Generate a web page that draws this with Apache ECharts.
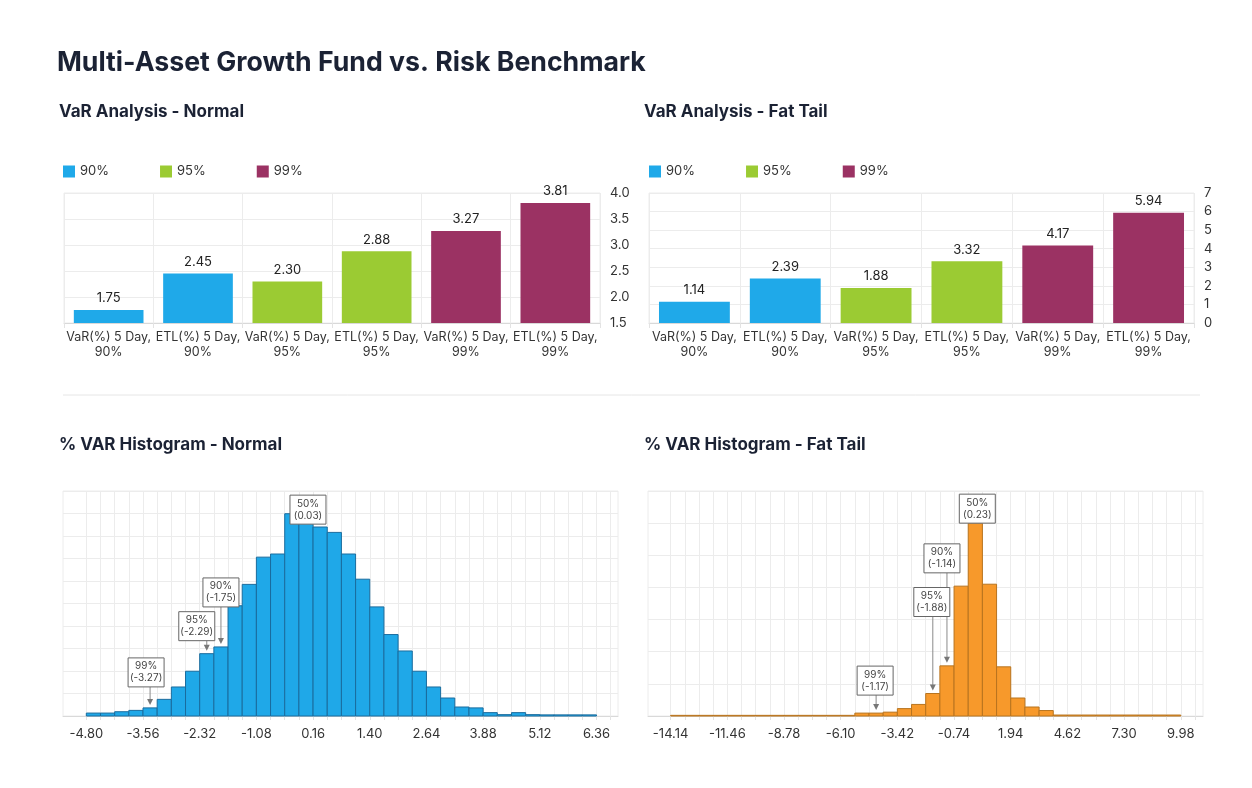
<!DOCTYPE html>
<html>
<head>
<meta charset="utf-8">
<title>Multi-Asset Growth Fund vs. Risk Benchmark</title>
<script src="https://cdn.jsdelivr.net/npm/echarts@6/dist/echarts.min.js"></script>
<style>
  html, body { margin: 0; padding: 0; background: #fff; }
  #main { width: 1252px; height: 788px; }
</style>
</head>
<body>
<div id="main"></div>
<script>
// ---- VaR / ETL bars ----
const varCategories = [
  'VaR(%) 5 Day, 90%', 'ETL(%) 5 Day, 90%',
  'VaR(%) 5 Day, 95%', 'ETL(%) 5 Day, 95%',
  'VaR(%) 5 Day, 99%', 'ETL(%) 5 Day, 99%'
];
const confLevels = ['90%', '95%', '99%'];
const normalVar = [1.75, 2.45, 2.30, 2.88, 3.27, 3.81];
const fatVar = [1.14, 2.39, 1.88, 3.32, 4.17, 5.94];
const normalVarTicks = [1.5, 2.0, 2.5, 3.0, 3.5, 4.0];
const fatVarTicks = [0, 1, 2, 3, 4, 5, 6, 7];

// ---- histograms (% of scenarios per bin, 4 bins between labels) ----
const normalHistTicks = [-4.80, -3.56, -2.32, -1.08, 0.16, 1.40, 2.64, 3.88, 5.12, 6.36];
const normalHist = [
  0.13, 0.13, 0.19, 0.25, 0.36, 0.74, 1.29, 1.99, 2.77, 3.07,
  4.90, 5.85, 7.06, 7.20, 8.99, 8.75, 8.40, 8.16, 7.20, 6.08,
  4.85, 3.62, 2.89, 1.99, 1.29, 0.80, 0.40, 0.36, 0.15, 0.06,
  0.15, 0.06, 0.05, 0.05, 0.05, 0.05
];
const normalQuantNames = ['50%', '90%', '95%', '99%'];
const normalQuantValues = [0.03, -1.75, -2.29, -3.27];
const normalQuantAt = [0.03, -1.75, -2.29, -3.27];

const fatHistTicks = [-14.14, -11.46, -8.78, -6.10, -3.42, -0.74, 1.94, 4.62, 7.30, 9.98];
const fatHist = [
  0.10, 0.10, 0.10, 0.10, 0.10, 0.10, 0.10, 0.10, 0.10, 0.10,
  0.10, 0.10, 0.10, 0.45, 0.45, 0.60, 1.15, 1.80, 3.50, 7.80,
  20.2, 30.0, 20.5, 7.65, 2.80, 1.40, 0.85, 0.15, 0.15, 0.15,
  0.15, 0.15, 0.15, 0.15, 0.15, 0.15
];
const fatQuantNames = ['50%', '90%', '95%', '99%'];
const fatQuantValues = [0.23, -1.14, -1.88, -1.17];
const fatQuantAt = [0.23, -1.14, -1.88, -4.40];

// ---- styles ----
const FONT = 'Inter, "Noto Sans", sans-serif';
const levelColors = ['#1fa9e9', '#9bcb33', '#9b3263'];
const gridColor = '#ececec';
const normalBoxDx = [2, 0, -10, -4];
const normalBoxLift = [-8, 37, 10, 18];
const fatBoxDx = [2, -5, -1, -1];
const fatBoxLift = [-3, 90, 74, 15];

function binWidth(ticks) { return (ticks[1] - ticks[0]) / 4; }

function histData(ticks, hist) {
  const w = binWidth(ticks);
  return hist.map((h, i) => [ticks[0] + i * w, ticks[0] + (i + 1) * w, h]);
}

function binEdges(ticks, count) {
  const w = binWidth(ticks);
  const out = [];
  for (let i = 0; i <= count; i++) out.push(ticks[0] + i * w);
  return out;
}

function markData(ticks, hist, at) {
  const w = binWidth(ticks);
  return at.map(v => {
    const idx = Math.floor((v - ticks[0]) / w + 1e-9);
    return [ticks[0] + (idx + 0.5) * w, hist[idx]];
  });
}

function renderBin(fill, stroke) {
  return function (params, api) {
    const a = api.coord([api.value(0), api.value(2)]);
    const b = api.coord([api.value(1), 0]);
    return {
      type: 'rect',
      shape: { x: a[0], y: a[1], width: b[0] - a[0], height: b[1] - a[1] },
      style: { fill: fill, stroke: stroke, lineWidth: 1 }
    };
  };
}

function renderMark(names, values, dx, lift) {
  return function (params, api) {
    const i = params.dataIndex;
    const p = api.coord([api.value(0), api.value(1)]);
    const tipY = p[1] - 3;
    const cx = p[0] + dx[i];
    const bottom = tipY - lift[i];
    const bw = 36, bh = 29;
    const children = [];
    if (lift[i] > 6) {
      children.push({ type: 'line', shape: { x1: p[0], y1: bottom, x2: p[0], y2: tipY - 5 },
        style: { stroke: '#8a8a8a', lineWidth: 1 } });
      children.push({ type: 'polygon', shape: { points: [[p[0] - 3, tipY - 6], [p[0] + 3, tipY - 6], [p[0], tipY]] },
        style: { fill: '#777' } });
    }
    children.push({ type: 'rect', shape: { x: cx - bw / 2, y: bottom - bh, width: bw, height: bh },
      style: { fill: '#fff', stroke: '#666', lineWidth: 1 } });
    children.push({ type: 'text', style: {
      text: names[i] + '\n(' + values[i].toFixed(2) + ')',
      x: cx, y: bottom - bh / 2, align: 'center', verticalAlign: 'middle',
      fontSize: 10, fontFamily: FONT, fill: '#444', lineHeight: 12 } });
    return { type: 'group', children: children };
  };
}

function varSeries(values, gridNo) {
  return confLevels.map((name, j) => ({
    name: name,
    type: 'bar',
    xAxisIndex: gridNo,
    yAxisIndex: gridNo,
    barGap: '-100%',
    barCategoryGap: '22%',
    itemStyle: { color: levelColors[j] },
    label: {
      show: true, position: 'top', distance: 5,
      fontSize: 13, color: '#222', fontFamily: FONT,
      formatter: p => Number(p.value).toFixed(2)
    },
    data: values.map((v, i) => (Math.floor(i / 2) === j ? v : '-'))
  }));
}

function catAxis(gridNo) {
  return {
    type: 'category', gridIndex: gridNo, data: varCategories,
    axisLine: { lineStyle: { color: '#d9d9d9' } },
    axisTick: { show: true, length: 5, lineStyle: { color: '#e3e3e3' } },
    splitLine: { show: true, lineStyle: { color: gridColor } },
    axisLabel: {
      interval: 0, margin: 7, fontSize: 12.5, lineHeight: 15, color: '#333', fontFamily: FONT,
      formatter: s => s.replace(', ', ',\n')
    }
  };
}

function varAxis(gridNo, ticks, digits) {
  return {
    type: 'value', gridIndex: gridNo, position: 'right',
    min: ticks[0], max: ticks[ticks.length - 1], interval: ticks[1] - ticks[0],
    axisLine: { show: false }, axisTick: { show: false },
    splitLine: { lineStyle: { color: gridColor } },
    axisLabel: { margin: 10, fontSize: 13, color: '#333', fontFamily: FONT,
      formatter: v => v.toFixed(digits) }
  };
}

function histXAxis(gridNo, ticks, min, max) {
  return {
    type: 'value', gridIndex: gridNo, min: min, max: max,
    axisLine: { show: true, lineStyle: { color: '#d9d9d9' } },
    axisTick: { show: true, length: 4, customValues: binEdges(ticks, 37), lineStyle: { color: '#e3e3e3' } },
    splitLine: { show: true, lineStyle: { color: gridColor } },
    axisLabel: { customValues: ticks, margin: 12, fontSize: 13, color: '#333', fontFamily: FONT,
      formatter: v => v.toFixed(2) }
  };
}

function histYAxis(gridNo, max, step) {
  return {
    type: 'value', gridIndex: gridNo, min: 0, max: max, interval: step,
    axisLine: { show: false }, axisTick: { show: false }, axisLabel: { show: false },
    splitLine: { lineStyle: { color: gridColor } }
  };
}

const chart = echarts.init(document.getElementById('main'));

const titleStyle = { fontSize: 17, fontWeight: 700, color: '#1b2234', fontFamily: FONT };
const legendStyle = { fontSize: 13, color: '#333', fontFamily: FONT };
const gridBox = { show: true, borderColor: gridColor, borderWidth: 1 };

chart.setOption({
  animation: false,
  backgroundColor: '#fff',
  textStyle: { fontFamily: FONT },
  title: [
    { text: 'Multi-Asset Growth Fund vs. Risk Benchmark', left: 52, top: 44,
      textStyle: { fontSize: 26.7, fontWeight: 700, color: '#1b2234', fontFamily: FONT } },
    { text: 'VaR Analysis - Normal', left: 54, top: 98, textStyle: titleStyle },
    { text: 'VaR Analysis - Fat Tail', left: 639, top: 98, textStyle: titleStyle },
    { text: '% VAR Histogram - Normal', left: 54, top: 431, textStyle: titleStyle },
    { text: '% VAR Histogram - Fat Tail', left: 639, top: 431, textStyle: titleStyle }
  ],
  legend: [
    { left: 58, top: 160, itemWidth: 12, itemHeight: 12, itemGap: 51, icon: 'rect',
      data: confLevels, textStyle: legendStyle },
    { left: 644, top: 160, itemWidth: 12, itemHeight: 12, itemGap: 51, icon: 'rect',
      data: confLevels, textStyle: legendStyle }
  ],
  graphic: [
    { type: 'line', shape: { x1: 63, y1: 395, x2: 1200, y2: 395 }, style: { stroke: '#e6e6e6', lineWidth: 1 } }
  ],
  grid: [
    Object.assign({ left: 64, top: 193, width: 536, height: 130 }, gridBox),
    Object.assign({ left: 649, top: 193, width: 545, height: 130 }, gridBox),
    Object.assign({ left: 63, top: 491, width: 555, height: 225 }, gridBox),
    Object.assign({ left: 648, top: 491, width: 555, height: 225 }, gridBox)
  ],
  xAxis: [
    catAxis(0),
    catAxis(1),
    histXAxis(2, normalHistTicks, -5.31, 6.83),
    histXAxis(3, fatHistTicks, -15.21, 11.03)
  ],
  yAxis: [
    varAxis(0, normalVarTicks, 1),
    varAxis(1, fatVarTicks, 0),
    histYAxis(2, 10, 1),
    histYAxis(3, 35, 5)
  ],
  series: [
    ...varSeries(normalVar, 0),
    ...varSeries(fatVar, 1),
    {
      type: 'custom', name: 'Normal histogram', xAxisIndex: 2, yAxisIndex: 2,
      renderItem: renderBin('#1fa8e8', '#1a6c9e'),
      encode: { x: [0, 1], y: 2 },
      data: histData(normalHistTicks, normalHist)
    },
    {
      type: 'custom', name: 'Fat tail histogram', xAxisIndex: 3, yAxisIndex: 3,
      renderItem: renderBin('#f7992b', '#b8741f'),
      encode: { x: [0, 1], y: 2 },
      data: histData(fatHistTicks, fatHist)
    },
    {
      type: 'custom', name: 'Normal quantiles', xAxisIndex: 2, yAxisIndex: 2, z: 5, clip: false,
      renderItem: renderMark(normalQuantNames, normalQuantValues, normalBoxDx, normalBoxLift),
      encode: { x: 0, y: 1 },
      data: markData(normalHistTicks, normalHist, normalQuantAt)
    },
    {
      type: 'custom', name: 'Fat tail quantiles', xAxisIndex: 3, yAxisIndex: 3, z: 5, clip: false,
      renderItem: renderMark(fatQuantNames, fatQuantValues, fatBoxDx, fatBoxLift),
      encode: { x: 0, y: 1 },
      data: markData(fatHistTicks, fatHist, fatQuantAt)
    }
  ]
});
</script>
</body>
</html>
